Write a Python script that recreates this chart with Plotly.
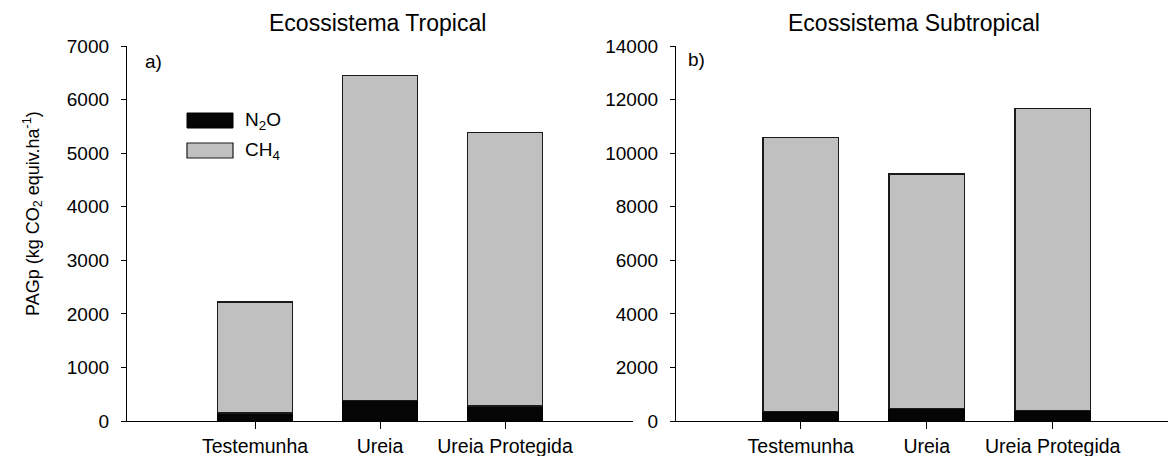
import plotly.graph_objects as go

# Treatments (x categories)
categories = ["Testemunha", "Ureia", "Ureia Protegida"]

# Partial global warming potential, kg CO2 equiv. per ha
tropical_n2o = [150, 380, 280]
tropical_ch4 = [2070, 6070, 5100]
subtropical_n2o = [350, 475, 385]
subtropical_ch4 = [10220, 8745, 11285]

# Y-axis ticks for each panel
tropical_ticks = [0, 1000, 2000, 3000, 4000, 5000, 6000, 7000]
subtropical_ticks = [0, 2000, 4000, 6000, 8000, 10000, 12000, 14000]

W, H = 1168, 456
FONT = "Liberation Sans, Arial, sans-serif"
N2O_COLOR = "#050505"
CH4_COLOR = "#c0c0c0"


def px_x(p):
    return p / W


def px_y(p):
    return 1 - p / H


fig = go.Figure()

for xa, ya, n2o, ch4 in [("x", "y", tropical_n2o, tropical_ch4),
                         ("x2", "y2", subtropical_n2o, subtropical_ch4)]:
    fig.add_trace(go.Bar(x=categories, y=n2o, xaxis=xa, yaxis=ya, width=0.6,
                         marker=dict(color=N2O_COLOR, line=dict(color="#000000", width=1)),
                         showlegend=False, name="N2O"))
    fig.add_trace(go.Bar(x=categories, y=ch4, xaxis=xa, yaxis=ya, width=0.6,
                         marker=dict(color=CH4_COLOR, line=dict(color="#1a1a1a", width=1.2)),
                         showlegend=False, name="CH4"))

axis_common = dict(showline=True, linecolor="black", linewidth=1.3, ticks="outside",
                   tickcolor="black", tickwidth=1, showgrid=False, zeroline=False,
                   automargin=False)
ytick_font = dict(family=FONT, size=19, color="black")
xtick_font = dict(family=FONT, size=19.5, color="black")

ydom = [px_y(421), px_y(46)]

fig.update_layout(
    width=W, height=H,
    margin=dict(l=0, r=0, t=0, b=0, autoexpand=False),
    paper_bgcolor="white", plot_bgcolor="white",
    barmode="stack",
    xaxis=dict(domain=[px_x(127), px_x(633)], range=[-1.024, 3.024], ticklen=7,
               ticklabelstandoff=0, anchor="y", tickfont=xtick_font, **axis_common),
    yaxis=dict(domain=ydom, range=[0, 7000], tickvals=tropical_ticks,
               ticktext=[str(v) for v in tropical_ticks], ticklen=5,
               ticklabelstandoff=8, anchor="x", tickfont=ytick_font, **axis_common),
    xaxis2=dict(domain=[px_x(676), 1.0], range=[-0.99, 2.915], ticklen=7,
                ticklabelstandoff=0, anchor="y2", tickfont=xtick_font, **axis_common),
    yaxis2=dict(domain=ydom, range=[0, 14000], tickvals=subtropical_ticks,
                ticktext=[str(v) for v in subtropical_ticks], ticklen=5,
                ticklabelstandoff=8, anchor="x2", tickfont=ytick_font, **axis_common),
)

text_font = dict(family=FONT, size=19, color="black")
title_font = dict(family=FONT, size=23, color="black")
annotations = [
    dict(text="Ecossistema Tropical", x=px_x(377), y=px_y(23), xanchor="center",
         yanchor="middle", font=title_font),
    dict(text="Ecossistema Subtropical", x=px_x(914), y=px_y(23), xanchor="center",
         yanchor="middle", font=title_font),
    dict(text="a)", x=px_x(143), y=px_y(62), xanchor="left", yanchor="middle", font=text_font),
    dict(text="b)", x=px_x(686), y=px_y(60), xanchor="left", yanchor="middle", font=text_font),
    dict(text="PAGp (kg CO<sub>2</sub> equiv.ha<sup>-1</sup>)", x=px_x(32), y=px_y(214),
         xanchor="center", yanchor="middle", textangle=-90,
         font=dict(family=FONT, size=18, color="black")),
    dict(text="N<sub>2</sub>O", x=px_x(243), y=px_y(121), xanchor="left", yanchor="middle", font=text_font),
    dict(text="CH<sub>4</sub>", x=px_x(243), y=px_y(151), xanchor="left", yanchor="middle", font=text_font),
]
for a in annotations:
    a.update(xref="paper", yref="paper", showarrow=False)
fig.update_layout(annotations=annotations)

# Legend swatches
fig.add_shape(type="rect", xref="paper", yref="paper",
              x0=px_x(187), x1=px_x(233), y0=px_y(128), y1=px_y(113),
              fillcolor=N2O_COLOR, line=dict(color="black", width=1))
fig.add_shape(type="rect", xref="paper", yref="paper",
              x0=px_x(187), x1=px_x(233), y0=px_y(158), y1=px_y(143),
              fillcolor=CH4_COLOR, line=dict(color="#1a1a1a", width=1.2))

fig.write_html("out.html")
